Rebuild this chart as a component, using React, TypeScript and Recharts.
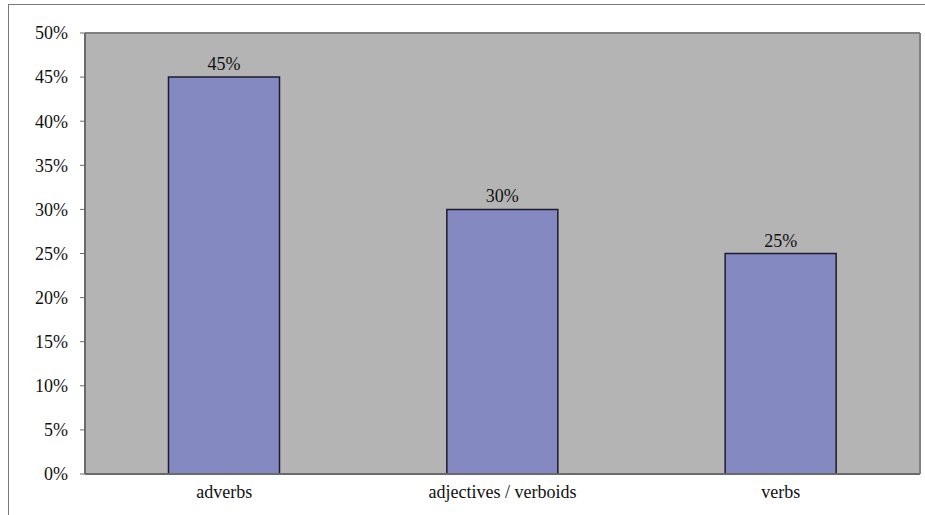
import { BarChart, Bar, XAxis, YAxis, CartesianGrid, LabelList, ReferenceLine } from "recharts";

const categories = ["adverbs", "adjectives / verboids", "verbs"];
const shares = [45, 30, 25];
const yTicks = [0, 5, 10, 15, 20, 25, 30, 35, 40, 45, 50];

const data = categories.map((name, i) => ({ name, share: shares[i] }));

const FONT = "'Liberation Serif', 'Times New Roman', 'DejaVu Serif', serif";
const tickStyle = { fill: "#111", fontSize: 18, fontFamily: FONT };

export default function App() {
  return (
    <div style={{ position: "absolute", left: 0, top: 0, width: 925, height: 515, background: "#fff" }}>
      {/* outer frame, runs off the right and bottom edges */}
      <div style={{ position: "absolute", left: 8, top: 4, width: 940, height: 540, border: "1px solid #7a7a7a" }} />
      <div style={{ position: "absolute", left: 0, top: 0 }}>
        <BarChart width={925} height={515} data={data} margin={{ top: 33, right: 0, bottom: 11, left: 0 }} barCategoryGap="30%">
          <CartesianGrid fill="#b4b4b4" horizontal={false} vertical={false} />
          <ReferenceLine y={50} stroke="#808080" strokeWidth={2} />
          <XAxis
            dataKey="name"
            height={30}
            tick={tickStyle}
            tickLine={false}
            tickSize={0}
            tickMargin={11}
            axisLine={{ stroke: "#6a6a6a", strokeWidth: 2 }}
          />
          <YAxis
            width={85}
            domain={[0, 50]}
            ticks={yTicks}
            interval={0}
            tickFormatter={(v: number) => `${v}%`}
            tick={tickStyle}
            tickSize={5}
            tickMargin={12}
            tickLine={{ stroke: "#6a6a6a" }}
            axisLine={{ stroke: "#6a6a6a", strokeWidth: 2 }}
          />
          <YAxis
            yAxisId="frame"
            orientation="right"
            width={5}
            tick={false}
            tickLine={false}
            axisLine={{ stroke: "#808080", strokeWidth: 2 }}
          />
          <Bar dataKey="share" fill="#8489c1" stroke="#1c1c2c" strokeWidth={1.5} isAnimationActive={false}>
            <LabelList
              dataKey="share"
              position="top"
              offset={7}
              formatter={(v: any) => `${v}%`}
              fill="#111"
              fontSize={18}
              fontFamily={FONT}
            />
          </Bar>
        </BarChart>
      </div>
    </div>
  );
}
